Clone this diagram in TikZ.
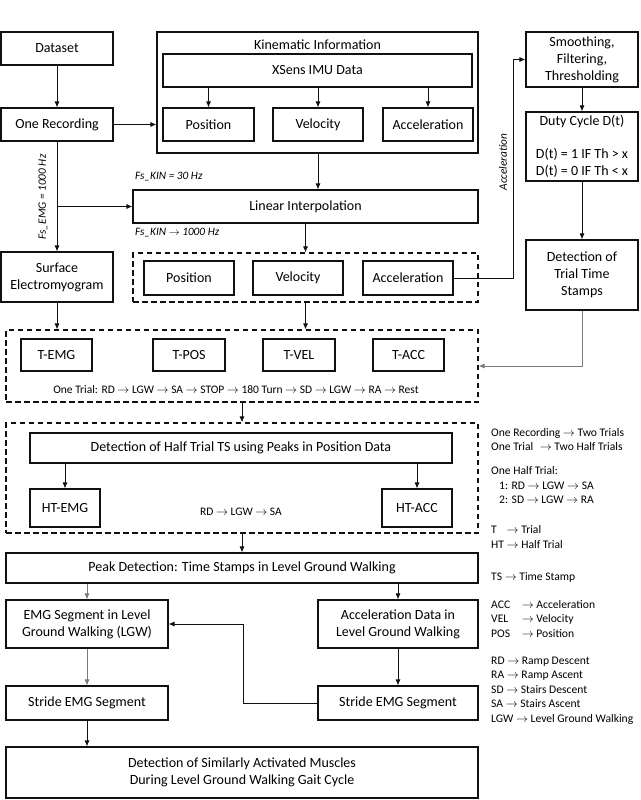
\documentclass[tikz,border=0pt]{standalone}
\usepackage{fontspec}
\setmainfont{Carlito}
\usepackage{tikz}
\usetikzlibrary{arrows.meta,calc}
\definecolor{ink}{HTML}{111111}
\definecolor{softink}{HTML}{7A7A7A}
\newcommand{\boxfont}{\fontsize{14}{17}\selectfont}
\newcommand{\smallfont}{\fontsize{11.6}{14.5}\selectfont}
\newcommand{\seqfont}{\fontsize{11.5}{14}\selectfont}
\newcommand{\ratefont}{\fontsize{11.3}{13}\selectfont\itshape}
\newcommand{\tto}{$\rightarrow$}
\tikzset{
  box/.style={
    draw=ink,
    line width=1.1pt,
    fill=white,
    align=center,
    font=\boxfont,
    inner sep=2pt
  },
  frame/.style={draw=ink, line width=1.1pt},
  group/.style={draw=ink, line width=1.1pt, dash pattern=on 5.5pt off 3.5pt},
  heading/.style={font=\boxfont},
  flow/.style={line width=0.9pt, draw=ink, -{Latex[length=6pt,width=5pt]}},
  softflow/.style={flow, draw=softink},
  link/.style={line width=0.9pt, draw=ink},
  rate/.style={font=\ratefont, inner sep=0pt},
  seq/.style={font=\seqfont, inner sep=0pt},
  legend/.style={font=\smallfont, align=left, anchor=west, inner sep=0pt}
}

\begin{document}
\begin{tikzpicture}[x=1pt,y=-1pt]
\path[use as bounding box] (0,0) rectangle (640,800);
\fill[white] (0,0) rectangle (640,800);

% recording branch
\node[box, minimum width=112pt, minimum height=33pt] (dataset) at (57,48.5) {Dataset};
\node[box, minimum width=112pt, minimum height=33pt] (onerec) at (57,124.5) {One Recording};
\node[box, minimum width=112pt, minimum height=50pt] (semg) at (57,277) {Surface\\Electromyogram};

% kinematic information
\node[frame, minimum width=321pt, minimum height=121pt] (kin) at (317.5,92.5) {};
\node[heading] (kintitle) at (317.5,45) {Kinematic Information};
\node[box, minimum width=309pt, minimum height=33pt] (xsens) at (317.5,70.5) {XSens IMU Data};
\node[box, minimum width=91pt, minimum height=33pt] (pos) at (208.5,124.5) {Position};
\node[box, minimum width=90pt, minimum height=33pt] (vel) at (318,124.5) {Velocity};
\node[box, minimum width=90pt, minimum height=33pt] (acc) at (428,124.5) {Acceleration};

\node[box, minimum width=345pt, minimum height=33pt] (lin) at (305.5,206.5) {Linear Interpolation};
\node[rate, anchor=west] (fskin) at (135,177) {Fs\_KIN = 30 Hz};
\node[rate, anchor=west] (fsup) at (135,233) {Fs\_KIN \tto\ 1000 Hz};
\node[rate, rotate=90] (fsemg) at (43,197) {Fs\_EMG = 1000 Hz};

% interpolated data
\node[group, minimum width=345pt, minimum height=49pt] (interp) at (305.5,277.5) {};
\node[box, minimum width=90pt, minimum height=34pt] (ipos) at (189,278) {Position};
\node[box, minimum width=90pt, minimum height=34pt] (ivel) at (298,278) {Velocity};
\node[box, minimum width=90pt, minimum height=34pt] (iacc) at (408,278) {Acceleration};

% trial detection
\node[box, minimum width=112pt, minimum height=55pt] (smooth) at (582,59.5) {Smoothing,\\Filtering,\\Thresholding};
\node[box, minimum width=112pt, minimum height=69pt] (duty) at (582,146.5) {Duty Cycle D(t)\\[16pt]D(t) = 1 IF Th > x\\D(t) = 0 IF Th < x};
\node[box, minimum width=112pt, minimum height=70pt] (dettrial) at (582,275) {Detection of\\Trial Time\\Stamps};
\node[rate, rotate=90] (acclabel) at (503,162) {Acceleration};

% trials
\node[group, minimum width=472pt, minimum height=72pt] (trial) at (242,366) {};
\node[box, minimum width=71pt, minimum height=32pt] (temg) at (56.5,355) {T-EMG};
\node[box, minimum width=72pt, minimum height=32pt] (tpos) at (189,355) {T-POS};
\node[box, minimum width=72pt, minimum height=32pt] (tvel) at (299,355) {T-VEL};
\node[box, minimum width=71pt, minimum height=32pt] (tacc) at (408.5,355) {T-ACC};
\node[seq] (trialseq) at (236,390) {One Trial: RD \tto\ LGW \tto\ SA \tto\ STOP \tto\ 180 Turn \tto\ SD \tto\ LGW \tto\ RA \tto\ Rest};

% half trials
\node[group, minimum width=472pt, minimum height=110pt] (half) at (242,478) {};
\node[box, minimum width=422pt, minimum height=30pt] (dethalf) at (241,448) {Detection of Half Trial TS using Peaks in Position Data};
\node[box, minimum width=70pt, minimum height=38pt] (htemg) at (65,508) {HT-EMG};
\node[box, minimum width=70pt, minimum height=38pt] (htacc) at (417,508) {HT-ACC};
\node[seq] (halfseq) at (241,512) {RD \tto\ LGW \tto\ SA};

% level ground walking
\node[box, minimum width=472pt, minimum height=30pt] (peak) at (242,568) {Peak Detection: Time Stamps in Level Ground Walking};
\node[box, minimum width=162pt, minimum height=48pt] (emgseg) at (87,624) {EMG Segment in Level\\Ground Walking (LGW)};
\node[box, minimum width=160pt, minimum height=48pt] (accseg) at (398,624) {Acceleration Data in\\Level Ground Walking};
\node[box, minimum width=162pt, minimum height=34pt] (strideemg) at (87,703) {Stride EMG Segment};
\node[box, minimum width=160pt, minimum height=34pt] (strideacc) at (398,703) {Stride EMG Segment};
\node[box, minimum width=472pt, minimum height=51pt] (muscles) at (242,772.5) {Detection of Similarly Activated Muscles\\During Level Ground Walking Gait Cycle};

% legend
\node[legend] (leg1) at (491,439.5) {One Recording \tto\ Two Trials\\One Trial\hspace{4pt} \tto\ Two Half Trials};
\node[legend] (leg2) at (491,485.5) {One Half Trial:\\\hspace*{8pt}1: RD \tto\ LGW \tto\ SA\\\hspace*{8pt}2: SD \tto\ LGW \tto\ RA};
\node[legend] (leg3) at (491,538) {\begin{tabular}{@{}l@{ }l@{}}T & \tto\ Trial\\HT & \tto\ Half Trial\end{tabular}};
\node[legend] (leg4) at (491,577) {TS \tto\ Time Stamp};
\node[legend] (leg5) at (491,620) {\begin{tabular}{@{}l@{\quad}l@{}}ACC & \tto\ Acceleration\\VEL & \tto\ Velocity\\POS & \tto\ Position\end{tabular}};
\node[legend] (leg6) at (491,690.5) {RD \tto\ Ramp Descent\\RA \tto\ Ramp Ascent\\SD \tto\ Stairs Descent\\SA \tto\ Stairs Ascent\\LGW \tto\ Level Ground Walking};

\coordinate (split) at (onerec |- lin.west);
\coordinate (accup) at (513,59.5);
\coordinate (turn) at ($(emgseg.east)!0.5!(accseg.west)$);

\draw[flow] (dataset) -- (onerec);
\draw[flow] (onerec.east) -- (onerec.east -| kin.west);
\draw[flow] (pos |- xsens.south) -- (pos);
\draw[flow] (vel |- xsens.south) -- (vel);
\draw[flow] (acc |- xsens.south) -- (acc);
\draw[flow] (vel |- kin.south) -- (vel |- lin.north);
\draw[flow] (onerec) -- (semg);
\draw[flow] (split) -- (lin.west);
\draw[flow] (lin.south) -- (interp.north);
\draw[flow] (iacc.east) -| (accup) -- (smooth.west);
\draw[flow] (smooth) -- (duty);
\draw[flow] (duty) -- (dettrial);
\draw[softflow] (dettrial.south) |- (trial.east);
\draw[flow] (semg.south) -- (semg.south |- trial.north);
\draw[flow] (interp.south) -- (interp.south |- trial.north);
\draw[flow] (trial.south) -- (half.north);
\draw[flow] (htemg |- dethalf.south) -- (htemg);
\draw[flow] (htacc |- dethalf.south) -- (htacc);
\draw[flow] (half.south) -- (peak.north);
\draw[softflow] (emgseg |- peak.south) -- (emgseg);
\draw[flow] (accseg |- peak.south) -- (accseg);
\draw[softflow] (emgseg) -- (strideemg);
\draw[flow] (accseg) -- (strideacc);
\draw[flow] (strideacc.west) -| (turn) -- (emgseg.east);
\draw[flow] (strideemg.south) -- (strideemg.south |- muscles.north);

\end{tikzpicture}
\end{document}
